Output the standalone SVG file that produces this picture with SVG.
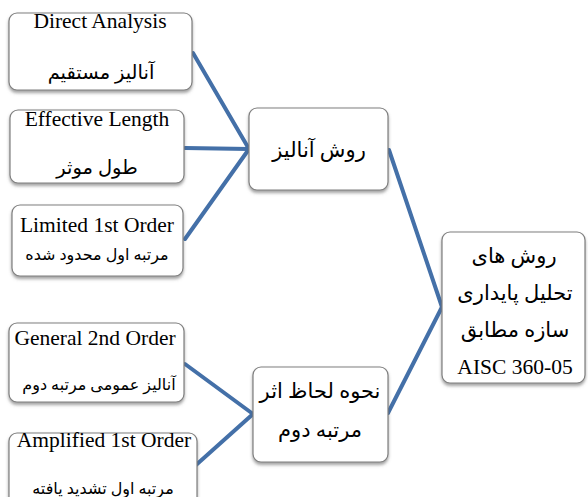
<svg xmlns="http://www.w3.org/2000/svg" width="588" height="497" viewBox="0 0 588 497">
<defs>
<filter id="sh" x="-10%" y="-10%" width="120%" height="130%">
<feDropShadow dx="0" dy="2.5" stdDeviation="1.6" flood-color="#555" flood-opacity="0.55"/>
</filter>
</defs>
<style>
.box{fill:#fff;stroke:#7f7f7f;stroke-width:1.2;filter:url(#sh)}
.en{font-family:"Liberation Serif","Times New Roman",serif;font-size:21.5px;fill:#000;text-anchor:middle}
.fa{font-family:"Liberation Serif","DejaVu Sans",serif;font-size:19.5px;fill:#000;text-anchor:middle;direction:rtl}
.fb{font-size:21px}
.fs{font-size:16px}
.con{stroke:#4470a8;stroke-width:4;fill:none;stroke-linecap:round;stroke-linejoin:round}
</style>
<rect width="588" height="497" fill="#fff"/>
<g id="connectors">
<polyline class="con" points="193,53 249,149 185,148"/>
<polyline class="con" points="249,149 185,239"/>
<polyline class="con" points="389,150 442,307 388,413"/>
<polyline class="con" points="185,364 253,414 196,465"/>
</g>
<g id="n-direct">
<rect class="box" x="9" y="13" width="183" height="77" rx="8"/>
<text class="en" x="100" y="28">Direct Analysis</text>
<text class="fa" x="101" y="79">آنالیز مستقیم</text>
</g>
<g id="n-effective">
<rect class="box" x="10" y="110" width="174" height="73" rx="8"/>
<text class="en" x="97" y="126">Effective Length</text>
<text class="fa" x="97" y="174">طول موثر</text>
</g>
<g id="n-limited">
<rect class="box" x="12" y="205" width="171" height="71" rx="8"/>
<text class="en" x="97" y="232">Limited 1st Order</text>
<text class="fa fs" x="97" y="260">مرتبه اول محدود شده</text>
</g>
<g id="n-general">
<rect class="box" x="9" y="323" width="175" height="79" rx="8"/>
<text class="en" x="95" y="345">General 2nd Order</text>
<text class="fa fs" x="99" y="390">آنالیز عمومی مرتبه دوم</text>
</g>
<g id="n-amplified">
<rect class="box" x="9" y="433" width="188" height="80" rx="8"/>
<text class="en" x="104" y="447">Amplified 1st Order</text>
<text class="fa fs" x="103" y="494">مرتبه اول تشدید یافته</text>
</g>
<g id="n-method">
<rect class="box" x="249" y="108" width="139" height="82" rx="8"/>
<text class="fa fb" x="319" y="157">روش آنالیز</text>
</g>
<g id="n-second">
<rect class="box" x="253" y="367" width="135" height="95" rx="8"/>
<text class="fa fb" x="320" y="398">نحوه لحاظ اثر</text>
<text class="fa fb" x="320" y="437">مرتبه دوم</text>
</g>
<g id="n-root">
<rect class="box" x="442" y="232" width="143" height="151" rx="8"/>
<text class="fa fb" x="514" y="263">روش های</text>
<text class="fa fb" x="515" y="300">تحلیل پایداری</text>
<text class="fa fb" x="515" y="337">سازه مطابق</text>
<text class="en" x="515" y="374">AISC 360-05</text>
</g>
</svg>
